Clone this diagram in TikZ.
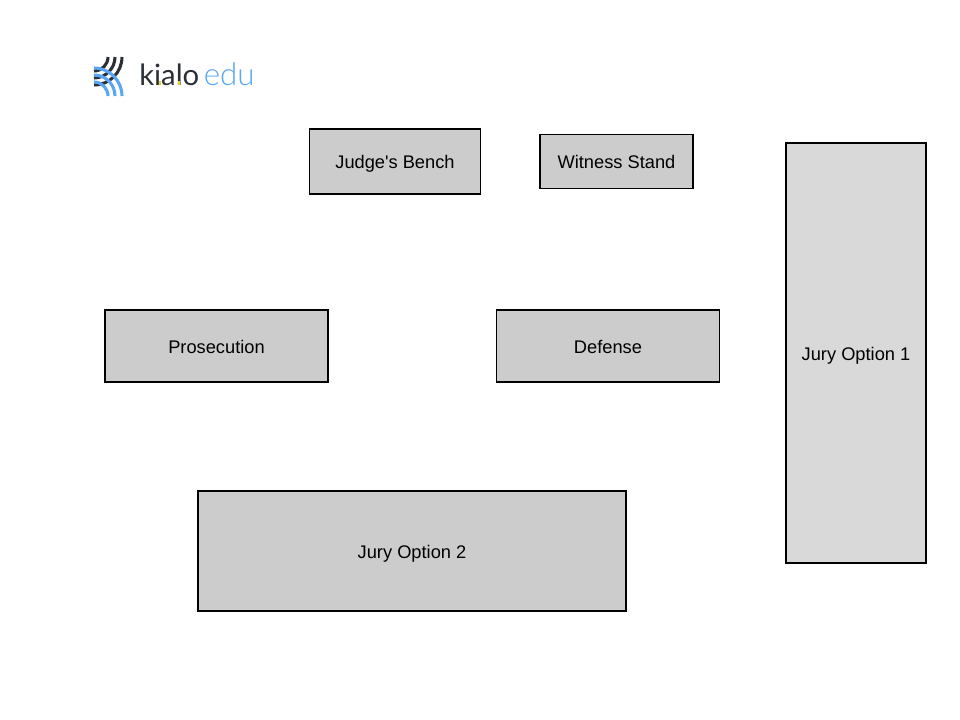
\documentclass[tikz,border=0pt]{standalone}
\usepackage{fontspec}
\newfontfamily\boxfont{Liberation Sans}
\newfontfamily\logofont{Lato}
\newfontfamily\logolight{Lato Light}
\newcommand{\boxlabel}[1]{\raisebox{-5pt}[0pt][0pt]{#1}}
\newcommand{\boxlabellow}[1]{\raisebox{-5.7pt}[0pt][0pt]{#1}}
\begin{document}
\begin{tikzpicture}[x=0.75pt,y=-0.75pt,
  roombox/.style={draw=black,line width=1.3pt,fill=boxgray,inner sep=0pt,font=\boxfont\fontsize{13.7}{16}\selectfont,text=black},
  logoarc/.style={line width=2.3pt,line cap=butt}]
\definecolor{boxgray}{HTML}{CCCCCC}
\definecolor{boxlight}{HTML}{D9D9D9}
\definecolor{logoblue}{HTML}{58A6F5}
\definecolor{logodark}{HTML}{2B2F36}
\definecolor{logoyellow}{HTML}{E4CF2E}
\useasboundingbox (0,0) rectangle (960,720);
\node[roombox,minimum width=128.25pt,minimum height=48.75pt] (judge) at (395,161.5) {\boxlabel{Judge's Bench}};
\node[roombox,minimum width=114.25pt,minimum height=40.5pt] (witness) at (616.5,161.5) {\boxlabel{Witness Stand}};
\node[roombox,fill=boxlight,minimum width=104.75pt,minimum height=315pt] (jury1) at (856,353) {\boxlabellow{Jury Option 1}};
\node[roombox,minimum width=166.75pt,minimum height=54pt] (prosecution) at (216.5,346) {\boxlabellow{Prosecution}};
\node[roombox,minimum width=167.25pt,minimum height=54pt] (defense) at (608,346) {\boxlabellow{Defense}};
\node[roombox,minimum width=321.25pt,minimum height=90pt] (jury2) at (412,551) {\boxlabellow{Jury Option 2}};
% logo mark: dark arcs first, blue arcs over them
\foreach \r in {14,21,28}{
  \draw[logoarc,logodark] (94+\r,57) arc[start angle=0,end angle=90,radius=\r];
}
\foreach \r in {14,21,28}{
  \draw[logoarc,logoblue] (94+\r,96) arc[start angle=0,end angle=-90,radius=\r];
}
\node[inner sep=0pt,anchor=base west,text=logodark,font=\logofont\fontsize{22}{24}\selectfont] (kialo) at (139,85.5) {kialo};
\node[inner sep=0pt,anchor=base west,text=logoblue,font=\logolight\fontsize{23.5}{24}\selectfont] (edu) at (203.5,85.5) {edu};
\fill[logoyellow] (158.5,81) rectangle (160.5,85.5);
\fill[logoyellow] (178,81) rectangle (180,85.5);
\end{tikzpicture}
\end{document}
